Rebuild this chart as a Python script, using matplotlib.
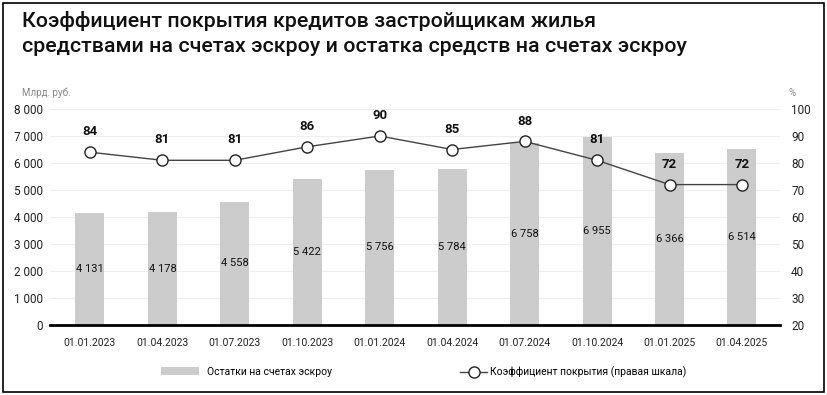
import matplotlib
matplotlib.use("Agg")
import matplotlib.pyplot as plt
from matplotlib.patches import Rectangle
from matplotlib.lines import Line2D
from matplotlib.patches import Patch

dates = ["01.01.2023", "01.04.2023", "01.07.2023", "01.10.2023", "01.01.2024",
         "01.04.2024", "01.07.2024", "01.10.2024", "01.01.2025", "01.04.2025"]
escrow = [4131, 4178, 4558, 5422, 5756, 5784, 6758, 6955, 6366, 6514]
coverage = [84, 81, 81, 86, 90, 85, 88, 81, 72, 72]
left_ticks = [0, 1000, 2000, 3000, 4000, 5000, 6000, 7000, 8000]
right_ticks = [20, 30, 40, 50, 60, 70, 80, 90, 100]

def fmt(v):
    return f"{v:,}".replace(",", "\u00a0")

plt.rcParams['font.family'] = ['Roboto', 'DejaVu Sans']

W, H = 828, 395
fig = plt.figure(figsize=(W/100, H/100), dpi=100)
fig.patches.append(Rectangle((3/W, 3/H), 821/W, 389/H, transform=fig.transFigure,
                             fill=False, edgecolor='black', linewidth=1.2))

ax = fig.add_axes([50/W, 1-325/H, 730/W, 216/H])
x = list(range(len(dates)))
bar_color = '#cccccc'
ax.bar(x, escrow, width=0.4, color=bar_color, zorder=2)
ax.set_xlim(-0.552, 9.525)
ax.set_ylim(0, 8000)
ax.set_yticks(left_ticks)
ax.set_yticklabels([fmt(v) for v in left_ticks], fontsize=8.5, color='#222222')
ax.set_xticks(x)
ax.set_xticklabels(dates, fontsize=7.5, color='#222222')
ax.tick_params(axis='both', length=0)
ax.tick_params(axis='x', pad=9)
ax.tick_params(axis='y', pad=5)
for s in ['top', 'right', 'left']:
    ax.spines[s].set_visible(False)
ax.spines['bottom'].set_linewidth(2)
ax.spines['bottom'].set_zorder(5)
ax.grid(axis='y', color='#eeeeee', linewidth=0.8, zorder=0)
ax.set_axisbelow(True)
for xi, v in zip(x, escrow):
    ax.text(xi, v/2, fmt(v), ha='center', va='center', fontsize=8, color='#111111', zorder=4)

ax2 = ax.twinx()
ax2.set_ylim(20, 100)
ax2.set_yticks(right_ticks)
ax2.set_yticklabels([str(v) for v in right_ticks], fontsize=8.5, color='#222222')
ax2.tick_params(axis='y', length=0, pad=8)
for s in ['top', 'right', 'left', 'bottom']:
    ax2.spines[s].set_visible(False)
ax2.plot(x, coverage, color='#444444', linewidth=1, marker='o', markersize=8,
         markerfacecolor='white', markeredgecolor='#222222', markeredgewidth=1, zorder=5)
for xi, v in zip(x, coverage):
    ax2.annotate(str(v), (xi, v), xytext=(0, 10), textcoords='offset points',
                 ha='center', va='bottom', fontsize=9.5, fontweight='semibold', color='#111111')

fig.text(22/W, 1-21/H, "Коэффициент покрытия кредитов застройщикам жилья",
         fontsize=15.4, fontweight='medium', va='center', ha='left', color='#111111')
fig.text(22/W, 1-46/H, "средствами на счетах эскроу и остатка средств на счетах эскроу",
         fontsize=15.4, fontweight='medium', va='center', ha='left', color='#111111')
fig.text(22/W, 1-93/H, "Млрд. руб.", fontsize=7, color='#888888', va='center', ha='left')
fig.text(789/W, 1-93/H, "%", fontsize=7, color='#888888', va='center', ha='left')

handles = [Patch(facecolor=bar_color, edgecolor='none'),
           Line2D([0], [0], color='#444444', linewidth=1, marker='o', markersize=8,
                  markerfacecolor='white', markeredgecolor='#222222')]
leg1 = fig.legend(handles[:1], ["Остатки на счетах эскроу"], loc='center left',
                  bbox_to_anchor=(158/W, 1-372/H), frameon=False, fontsize=7.5,
                  handlelength=3.6, handleheight=0.8, handletextpad=0.8,
                  borderaxespad=0, borderpad=0.3)
leg2 = fig.legend(handles[1:], ["Коэффициент покрытия (правая шкала)"], loc='center left',
                  bbox_to_anchor=(457/W, 1-372/H), frameon=False, fontsize=7.5,
                  handlelength=2.6, handletextpad=0.3, borderaxespad=0, borderpad=0.3)

fig.savefig("out.png", dpi=100)
